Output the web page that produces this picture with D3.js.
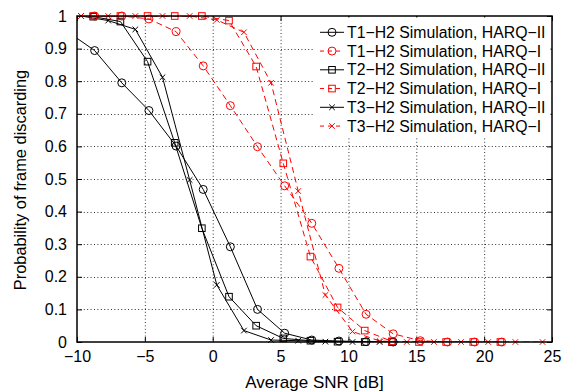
<!DOCTYPE html>
<html><head><meta charset="utf-8">
<script src="https://cdn.jsdelivr.net/npm/d3@7"></script>
<style>body{margin:0;background:#fff}svg{display:block}text{font-family:"Liberation Sans",Arial,sans-serif}</style>
</head><body><svg id="c" width="574" height="392"></svg>
<script>
// SNR grids (dB)
const snrT1 = [-10.7,-8.7,-6.7,-4.7,-2.7,-0.7,1.3,3.3,5.3,7.3,9.3,11.3,13.3,15.3,17.3,19.3,21.3];
const snrT2 = [-8.8,-6.8,-4.8,-2.8,-0.8,1.2,3.2,5.2,7.2,9.2,11.2,13.2,15.2,17.2,19.2,21.2];
const snrT3 = [-9.7,-7.7,-5.7,-3.7,-1.7,0.3,2.3,4.3,6.3,8.3,10.3,12.3,14.3,16.3,18.3,20.3,22.3,24.3];
// Probability of frame discarding
const t1HarqII = [0.952,0.894,0.795,0.710,0.601,0.468,0.292,0.100,0.027,0.006,0.003,0.001,0.000];
const t1HarqI  = [1,1,1,0.991,0.952,0.847,0.725,0.599,0.479,0.364,0.226,0.085,0.025,0.004,0,0,0];
const t2HarqII = [0.998,0.983,0.860,0.611,0.349,0.139,0.050,0.011,0.004,0.001,0.000,0.000];
const t2HarqI  = [1,1,1,1,1,0.986,0.845,0.548,0.262,0.106,0.035,0.002,0,0,0,0];
const t3HarqII = [1,0.986,0.959,0.812,0.497,0.175,0.035,0.006,0.004,0.001,0.000,0.000];
const t3HarqI  = [1,1,1,1,1,0.988,0.950,0.795,0.463,0.144,0.032,0.003,0,0,0,0,0,0];
const xTicks = [-10,-5,0,5,10,15,20,25];
const yTicks = [0,0.1,0.2,0.3,0.4,0.5,0.6,0.7,0.8,0.9,1];
const seriesNames = ["T1\u2212H2 Simulation, HARQ\u2212II","T1\u2212H2 Simulation, HARQ\u2212I",
  "T2\u2212H2 Simulation, HARQ\u2212II","T2\u2212H2 Simulation, HARQ\u2212I",
  "T3\u2212H2 Simulation, HARQ\u2212II","T3\u2212H2 Simulation, HARQ\u2212I"];

const series = [
  {name:seriesNames[0], x:snrT1, y:t1HarqII, color:"#000", dash:null, marker:"circle"},
  {name:seriesNames[1], x:snrT1, y:t1HarqI,  color:"#f00", dash:"6,4", marker:"circle"},
  {name:seriesNames[2], x:snrT2, y:t2HarqII, color:"#000", dash:null, marker:"square"},
  {name:seriesNames[3], x:snrT2, y:t2HarqI,  color:"#f00", dash:"6,4", marker:"square"},
  {name:seriesNames[4], x:snrT3, y:t3HarqII, color:"#000", dash:null, marker:"cross"},
  {name:seriesNames[5], x:snrT3, y:t3HarqI,  color:"#f00", dash:"6,4", marker:"cross"}
];

const svg = d3.select("#c");
const L=77, R=552, T=16, B=342;
const x = d3.scaleLinear().domain([-10,25]).range([L,R]);
const y = d3.scaleLinear().domain([0,1]).range([B,T]);
const fmtX = d => d<0 ? "\u2212"+Math.abs(d) : String(d);
const fmtY = d => String(d);

svg.append("defs").append("clipPath").attr("id","clip")
  .append("rect").attr("x",L).attr("y",T).attr("width",R-L).attr("height",B-T);

// grid
const grid = svg.append("g").attr("stroke","#000").attr("stroke-width",0.8).attr("stroke-dasharray","1,2.4");
grid.selectAll(".gx").data(xTicks.slice(1,-1)).enter().append("line")
  .attr("x1",d=>x(d)+0.5).attr("x2",d=>x(d)+0.5).attr("y1",T).attr("y2",B);
grid.selectAll(".gy").data(yTicks.slice(1,-1)).enter().append("line")
  .attr("y1",d=>Math.round(y(d))+0.5).attr("y2",d=>Math.round(y(d))+0.5).attr("x1",L).attr("x2",R);

// axes
const ax = svg.append("g");
ax.append("g").attr("transform",`translate(0,${B})`)
  .call(d3.axisBottom(x).tickValues(xTicks).tickFormat(fmtX).tickSize(-5).tickPadding(9));
ax.append("g").attr("transform",`translate(0,${T})`)
  .call(d3.axisTop(x).tickValues(xTicks).tickFormat("").tickSize(-5));
ax.append("g").attr("transform",`translate(${L},0)`)
  .call(d3.axisLeft(y).tickValues(yTicks).tickFormat(fmtY).tickSize(-5).tickPadding(10));
ax.append("g").attr("transform",`translate(${R},0)`)
  .call(d3.axisRight(y).tickValues(yTicks).tickFormat("").tickSize(-5));
ax.selectAll(".domain").remove();
ax.selectAll(".tick line").attr("stroke","#000").attr("stroke-width",1);
ax.selectAll(".tick text").attr("font-size",16).attr("fill","#000")
  .attr("font-family",'"Liberation Sans",Arial,sans-serif');

// lines
const line = d3.line().x(d=>x(d[0])).y(d=>y(d[1]));
const lg = svg.append("g").attr("clip-path","url(#clip)");
series.forEach(s=>{
  const pts = s.y.map((v,i)=>[s.x[i],v]);
  lg.append("path").attr("d",line(pts)).attr("fill","none")
    .attr("stroke",s.color).attr("stroke-width",1)
    .attr("stroke-dasharray",s.dash);
});

function drawMarker(g, type, cx, cy, color){
  if(type==="circle") g.append("circle").attr("cx",cx).attr("cy",cy).attr("r",4)
      .attr("fill","none").attr("stroke",color).attr("stroke-width",1);
  else if(type==="square") g.append("rect").attr("x",cx-3.3).attr("y",cy-3.3).attr("width",6.6).attr("height",6.6)
      .attr("fill","none").attr("stroke",color).attr("stroke-width",1);
  else { const r=2.8;
    g.append("path").attr("d",`M${cx-r},${cy-r}L${cx+r},${cy+r}M${cx-r},${cy+r}L${cx+r},${cy-r}`)
      .attr("stroke",color).attr("stroke-width",1).attr("fill","none"); }
}
const mg = svg.append("g");
series.forEach(s=>{
  s.y.forEach((v,i)=>{
    const xv=s.x[i]; if(xv<-10||xv>25) return;
    drawMarker(mg, s.marker, x(xv), y(v), s.color);
  });
});

// frame
svg.append("rect").attr("x",L).attr("y",T).attr("width",R-L).attr("height",B-T)
  .attr("fill","none").attr("stroke","#000").attr("stroke-width",1.5);

// legend
const legX=315, legY=T+1.5;
const leg = svg.append("g");
leg.append("rect").attr("x",legX).attr("y",legY).attr("width",R-legX-1.5).attr("height",120).attr("fill","#fff");
series.forEach((s,i)=>{
  const yy = 32.3 + i*18.75;
  leg.append("line").attr("x1",320).attr("x2",344).attr("y1",yy).attr("y2",yy)
    .attr("stroke",s.color).attr("stroke-width",1).attr("stroke-dasharray",s.dash?"4,4":null);
  drawMarker(leg, s.marker, 332, yy, s.color);
  leg.append("text").attr("x",347).attr("y",yy+5.5).attr("font-size",15.8).attr("fill","#000").text(s.name);
});

// axis labels
svg.append("text").attr("x",(L+R)/2).attr("y",388).attr("text-anchor","middle")
  .attr("font-size",17).attr("fill","#000").text("Average SNR [dB]");
svg.append("text").attr("transform",`translate(26,${(T+B)/2 + 1}) rotate(-90)`).attr("text-anchor","middle")
  .attr("font-size",16.4).attr("fill","#000").text("Probability of frame discarding");
</script></body></html>
